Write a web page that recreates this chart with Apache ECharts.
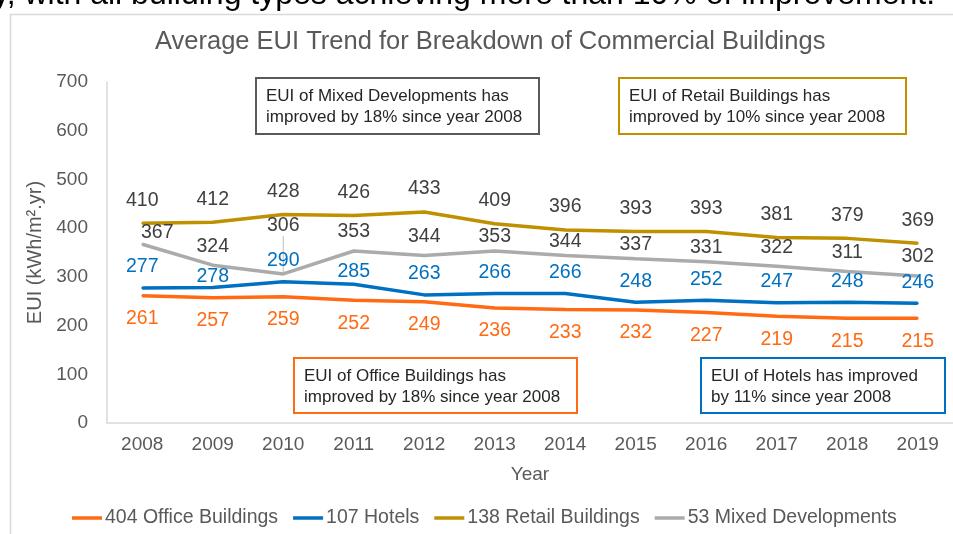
<!DOCTYPE html>
<html>
<head>
<meta charset="utf-8">
<script src="https://cdn.jsdelivr.net/npm/echarts@6/dist/echarts.min.js"></script>
<style>
  html, body { margin: 0; padding: 0; background: #fff; }
  #chart { width: 953px; height: 534px; }
</style>
</head>
<body>
<div id="chart"></div>
<script>
const years = ['2008', '2009', '2010', '2011', '2012', '2013', '2014', '2015', '2016', '2017', '2018', '2019']
const office = [261, 257, 259, 252, 249, 236, 233, 232, 227, 219, 215, 215]
const hotels = [277, 278, 290, 285, 263, 266, 266, 248, 252, 247, 248, 246]
const retail = [410, 412, 428, 426, 433, 409, 396, 393, 393, 381, 379, 369]
const mixed = [367, 324, 306, 353, 344, 353, 344, 337, 331, 322, 311, 302]
const seriesNames = ['404 Office Buildings', '107 Hotels', '138 Retail Buildings', '53 Mixed Developments']

const FONT = '"Liberation Sans", Arial, sans-serif'
const colors = {
  office: '#FF6A13',
  hotels: '#0070C0',
  retail: '#BF9000',
  mixed: '#ABABAB'
}

const chart = echarts.init(document.getElementById('chart'))

function lineSeries (name, data, color, label) {
  return {
    name,
    type: 'line',
    data,
    // tiny symbol so the labels have something to hang on
    symbol: 'circle',
    symbolSize: 2,
    showSymbol: true,
    lineStyle: { color, width: 3.5 },
    itemStyle: { color },
    label: Object.assign({
      show: true,
      fontFamily: FONT,
      fontSize: 19.5
    }, label),
    z: 3
  }
}

// a note box drawn on top of the plot
function noteBox (left, top, w, h, color, lines) {
  return {
    type: 'group',
    left,
    top,
    children: [
      { type: 'rect', shape: { x: 0, y: 0, width: w, height: h }, style: { fill: '#fff', stroke: color, lineWidth: 2 } },
      { type: 'text', x: 10, y: 8, style: { text: lines, fill: '#262626', font: '17px ' + FONT, lineHeight: 21 } }
    ]
  }
}

// only the 2010 mixed label is lifted with a leader line
const mixedData = mixed.map((v, i) => i === 2
  ? { value: v, labelLine: { show: true, lineStyle: { color: '#BFBFBF', width: 1 } } }
  : v)

const option = {
  animation: false,
  title: {
    text: 'Average EUI Trend for Breakdown of Commercial Buildings',
    left: 150,
    top: 24,
    textStyle: { fontFamily: FONT, fontSize: 25.5, fontWeight: 'normal', color: '#595959' }
  },
  grid: { left: 107, right: 0, top: 82, bottom: 111 },
  legend: {
    bottom: 1,
    left: 67,
    icon: 'rect',
    itemWidth: 30,
    itemHeight: 3.5,
    itemGap: 15,
    textStyle: { fontFamily: FONT, fontSize: 19.5, color: '#595959', padding: [0, 0, 0, -2] },
    data: seriesNames
  },
  xAxis: {
    type: 'category',
    data: years,
    name: 'Year',
    nameLocation: 'middle',
    nameGap: 42,
    nameTextStyle: { fontFamily: FONT, fontSize: 19, color: '#595959' },
    axisLine: { lineStyle: { color: '#D9D9D9', width: 1.5 } },
    axisTick: { show: false },
    axisLabel: { fontFamily: FONT, fontSize: 19, color: '#595959', margin: 12 }
  },
  yAxis: {
    type: 'value',
    min: 0,
    max: 700,
    interval: 100,
    name: 'EUI (kWh/m².yr)',
    nameLocation: 'middle',
    nameGap: 55,
    nameTextStyle: { fontFamily: FONT, fontSize: 20, color: '#595959' },
    axisLine: { show: true, lineStyle: { color: '#D9D9D9', width: 1.5 } },
    axisTick: { show: false },
    splitLine: { show: false },
    axisLabel: { fontFamily: FONT, fontSize: 19, color: '#595959', margin: 19 }
  },
  series: [
    lineSeries(seriesNames[0], office, colors.office, { position: 'bottom', distance: 12, color: colors.office }),
    lineSeries(seriesNames[1], hotels, colors.hotels, { position: 'top', distance: 10, color: colors.hotels }),
    lineSeries(seriesNames[2], retail, colors.retail, { position: 'top', distance: 12, color: '#404040' }),
    lineSeries(seriesNames[3], mixedData, colors.mixed, { position: 'top', distance: 8, color: '#404040' })
  ],
  labelLayout (params) {
    // a few labels sit off the default spot in the reference
    if (params.seriesIndex === 3 && params.dataIndex === 0) return { dx: 15, dy: 7 }
    if (params.seriesIndex === 3 && params.dataIndex === 2) return { dy: -29 }
    if (params.seriesIndex === 3 && (params.dataIndex >= 5 && params.dataIndex <= 8)) return { dy: 5 }
    if (params.seriesIndex === 1 && params.dataIndex === 1) return { dy: 10 }
    if (params.seriesIndex === 1 && params.dataIndex === 3) return { dy: 8 }
    return {}
  },
  graphic: [
    { type: 'rect', left: 8, top: 12, shape: { width: 1000, height: 600 }, style: { fill: 'none', stroke: '#D9D9D9', lineWidth: 1.5 }, z: -1 },
    { type: 'text', left: -7, top: -21, style: { text: 'y, with all building types achieving more than 10% of improvement.', font: '32px ' + FONT, fill: '#000' } },
    noteBox(255, 77, 283, 56, '#595959', 'EUI of Mixed Developments has\nimproved by 18% since year 2008'),
    noteBox(618, 77, 287, 56, colors.retail, 'EUI of Retail Buildings has\nimproved by 10% since year 2008'),
    noteBox(293, 357, 283, 55, colors.office, 'EUI of Office Buildings has\nimproved by 18% since year 2008'),
    noteBox(700, 357, 244, 55, colors.hotels, 'EUI of Hotels has improved\nby 11% since year 2008')
  ]
}

chart.setOption(option)
</script>
</body>
</html>
